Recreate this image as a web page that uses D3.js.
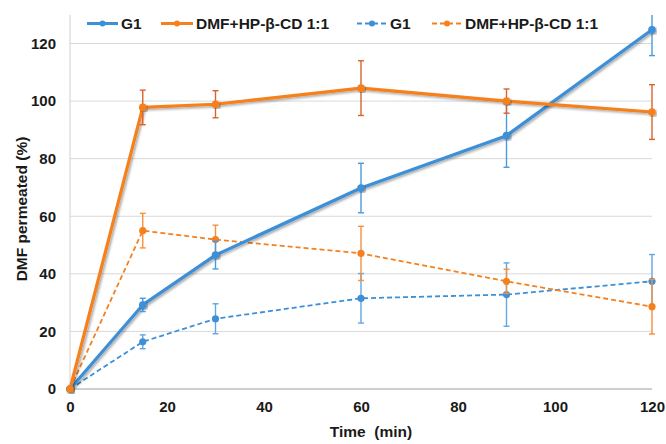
<!DOCTYPE html>
<html>
<head>
<meta charset="utf-8">
<script src="https://cdn.jsdelivr.net/npm/d3@7"></script>
<style>
html,body{margin:0;padding:0;background:#fff;}
svg{display:block;font-family:"Liberation Sans",Arial,sans-serif;}
</style>
</head>
<body>
<svg id="chart" width="666" height="444"></svg>
<script>
const times = [0, 15, 30, 60, 90, 120];
const g1Solid = [0, 29.2, 46.5, 69.8, 88.0, 124.8];
const g1SolidErr = [0, 2.3, 4.8, 8.6, 11.0, 9.0];
const dmfSolid = [0, 97.8, 98.9, 104.5, 100.0, 96.2];
const dmfSolidErr = [0, 6.0, 4.7, 9.5, 4.2, 9.5];
const g1Dashed = [0, 16.4, 24.4, 31.5, 32.8, 37.4];
const g1DashedErr = [0, 2.4, 5.2, 8.6, 11.0, 9.3];
const dmfDashed = [0, 55.0, 51.9, 47.1, 37.4, 28.6];
const dmfDashedErr = [0, 6.0, 5.0, 9.4, 4.2, 9.5];
const xTicks = [0, 20, 40, 60, 80, 100, 120];
const yTicks = [0, 20, 40, 60, 80, 100, 120];
const legendLabels = ["G1", "DMF+HP-β-CD 1:1", "G1", "DMF+HP-β-CD 1:1"];

const BLUE = "#3d8fd8", ORANGE = "#f5801f";
const series = [
  {name: legendLabels[2], values: g1Dashed, err: g1DashedErr, color: BLUE, errColor: "#62a6e2", dashed: true},
  {name: legendLabels[3], values: dmfDashed, err: dmfDashedErr, color: ORANGE, errColor: "#f4913f", dashed: true},
  {name: legendLabels[0], values: g1Solid, err: g1SolidErr, color: BLUE, errColor: "#4b9ade", dashed: false},
  {name: legendLabels[1], values: dmfSolid, err: dmfSolidErr, color: ORANGE, errColor: "#d9632a", dashed: false}
];

const svg = d3.select("#chart");
const x = d3.scaleLinear().domain([0, 120]).range([70, 652]);
const y = d3.scaleLinear().domain([0, 120]).range([389, 43.5]);
const plotTop = 15;

const defs = svg.append("defs");
const f = defs.append("filter").attr("id", "shadow").attr("x", "-10%").attr("y", "-10%").attr("width", "120%").attr("height", "120%");
f.append("feDropShadow").attr("dx", 1.5).attr("dy", 1.5).attr("stdDeviation", 1)
  .attr("flood-color", "#000").attr("flood-opacity", 0.35);
defs.append("clipPath").attr("id", "clip").append("rect")
  .attr("x", 60).attr("y", plotTop).attr("width", 610).attr("height", 389 - plotTop + 10);

// gridlines
svg.append("g").selectAll("line").data(yTicks.filter(d => d > 0)).join("line")
  .attr("x1", x(0)).attr("x2", x(120)).attr("y1", d => y(d)).attr("y2", d => y(d))
  .attr("stroke", "#d9d9d9").attr("stroke-width", 1);

// axes lines
svg.append("line").attr("x1", x(0)).attr("x2", x(0)).attr("y1", plotTop).attr("y2", y(0))
  .attr("stroke", "#d0d0d0").attr("stroke-width", 1);
svg.append("line").attr("x1", x(0)).attr("x2", x(120)).attr("y1", y(0)).attr("y2", y(0))
  .attr("stroke", "#bfbfbf").attr("stroke-width", 1.3);

// axis tick labels via d3 axes
const yAxis = svg.append("g").attr("transform", `translate(${x(0)},0)`)
  .call(d3.axisLeft(y).tickValues(yTicks).tickSize(0).tickPadding(14).tickFormat(d3.format("d")));
yAxis.select(".domain").remove();
yAxis.selectAll("text").attr("font-size", 15).attr("font-weight", "bold").attr("fill", "#1a1a1a")
  .attr("font-family", "Liberation Sans, Arial, sans-serif");
const xAxis = svg.append("g").attr("transform", `translate(0,${y(0)})`)
  .call(d3.axisBottom(x).tickValues(xTicks).tickSize(0).tickPadding(12).tickFormat(d3.format("d")));
xAxis.select(".domain").remove();
xAxis.selectAll("text").attr("font-size", 15).attr("font-weight", "bold").attr("fill", "#1a1a1a")
  .attr("font-family", "Liberation Sans, Arial, sans-serif");

// axis titles
svg.append("text").attr("transform", "translate(27,209) rotate(-90)").attr("text-anchor", "middle")
  .attr("font-size", 15.5).attr("font-weight", "bold").attr("fill", "#1a1a1a").text("DMF permeated (%)");
svg.append("text").attr("x", 371).attr("y", 437).attr("text-anchor", "middle").attr("xml:space", "preserve")
  .style("white-space", "pre")
  .attr("font-size", 15.5).attr("font-weight", "bold").attr("fill", "#1a1a1a").text("Time  (min)");

const plot = svg.append("g").attr("clip-path", "url(#clip)");

series.forEach(s => {
  const pts = times.map((t, i) => ({t, v: s.values[i], e: s.err[i]}));
  const g = plot.append("g");
  const line = d3.line().x(d => x(d.t)).y(d => y(d.v)).curve(d3.curveLinear);
  const path = g.append("path").datum(pts).attr("d", line).attr("fill", "none")
    .attr("stroke", s.color).attr("stroke-width", s.dashed ? 1.8 : 3.2)
    .attr("stroke-linejoin", "round");
  if (s.dashed) path.attr("stroke-dasharray", "5,3");
  else path.attr("filter", "url(#shadow)");
  // error bars
  const eb = g.append("g").attr("stroke", s.errColor).attr("stroke-width", 1.4);
  pts.filter(d => d.e > 0).forEach(d => {
    eb.append("line").attr("x1", x(d.t)).attr("x2", x(d.t)).attr("y1", y(d.v - d.e)).attr("y2", y(d.v + d.e));
    eb.append("line").attr("x1", x(d.t) - 3).attr("x2", x(d.t) + 3).attr("y1", y(d.v - d.e)).attr("y2", y(d.v - d.e));
    eb.append("line").attr("x1", x(d.t) - 3).attr("x2", x(d.t) + 3).attr("y1", y(d.v + d.e)).attr("y2", y(d.v + d.e));
  });
  g.append("g").selectAll("circle").data(pts).join("circle")
    .attr("cx", d => x(d.t)).attr("cy", d => y(d.v)).attr("r", s.dashed ? 3.6 : 3.8)
    .attr("fill", s.color)
    .attr("filter", s.dashed ? null : "url(#shadow)");
});

// legend
const legendItems = [
  {label: legendLabels[0], color: BLUE, dashed: false, x0: 87, x1: 118},
  {label: legendLabels[1], color: ORANGE, dashed: false, x0: 161, x1: 193},
  {label: legendLabels[2], color: BLUE, dashed: true, x0: 357, x1: 387},
  {label: legendLabels[3], color: ORANGE, dashed: true, x0: 432, x1: 462}
];
const ly = 23.5;
const lg = svg.append("g");
legendItems.forEach(it => {
  const l = lg.append("line").attr("x1", it.x0).attr("x2", it.x1).attr("y1", ly).attr("y2", ly)
    .attr("stroke", it.color).attr("stroke-width", it.dashed ? 1.8 : 3);
  if (it.dashed) l.attr("stroke-dasharray", "5,3");
  lg.append("circle").attr("cx", (it.x0 + it.x1) / 2).attr("cy", ly).attr("r", 3).attr("fill", it.color);
  lg.append("text").attr("x", it.x1 + 3).attr("y", ly + 5.5).attr("font-size", 15.5).attr("font-weight", "bold")
    .attr("fill", "#1a1a1a").text(it.label);
});
</script>
</body>
</html>
